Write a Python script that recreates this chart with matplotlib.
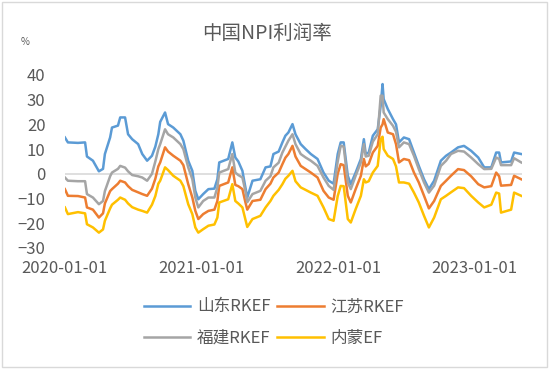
import numpy as np
import pandas as pd
import matplotlib
matplotlib.use("Agg")
import matplotlib.pyplot as plt
import matplotlib.dates as mdates
from matplotlib.patches import Rectangle

plt.rcParams['font.family'] = ['Noto Sans CJK SC', 'DejaVu Sans']

# 日期节点
dates = pd.to_datetime([
    "2020-01-01", "2020-01-09", "2020-02-05", "2020-02-24", "2020-02-29", "2020-03-16",
    "2020-04-01", "2020-04-12", "2020-04-17", "2020-05-01", "2020-05-06", "2020-05-22",
    "2020-05-28", "2020-06-10", "2020-06-18", "2020-06-29", "2020-07-15", "2020-07-26",
    "2020-08-08", "2020-08-21", "2020-08-30", "2020-09-07", "2020-09-12", "2020-09-25",
    "2020-10-03", "2020-10-17", "2020-11-05", "2020-11-13", "2020-11-26", "2020-12-07",
    "2020-12-15", "2020-12-23", "2021-01-05", "2021-01-19", "2021-02-04", "2021-02-12",
    "2021-02-17", "2021-03-13", "2021-03-24", "2021-04-01", "2021-04-09", "2021-04-20",
    "2021-04-28", "2021-05-03", "2021-05-17", "2021-06-07", "2021-06-21", "2021-07-04",
    "2021-07-12", "2021-07-26", "2021-08-05", "2021-08-13", "2021-08-21", "2021-09-01",
    "2021-09-09", "2021-09-23", "2021-10-06", "2021-10-20", "2021-11-07", "2021-11-23",
    "2021-12-07", "2021-12-20", "2021-12-31", "2022-01-08", "2022-01-16", "2022-01-27",
    "2022-02-04", "2022-02-17", "2022-03-03", "2022-03-11", "2022-03-16", "2022-03-24",
    "2022-04-04", "2022-04-17", "2022-04-25", "2022-04-30", "2022-05-03", "2022-05-14",
    "2022-05-28", "2022-06-05", "2022-06-13", "2022-06-26", "2022-07-10", "2022-07-23",
    "2022-08-05", "2022-08-19", "2022-09-01", "2022-09-15", "2022-10-03", "2022-10-17",
    "2022-10-30", "2022-11-18", "2022-12-04", "2022-12-23", "2023-01-11", "2023-01-27",
    "2023-02-15", "2023-02-28", "2023-03-08", "2023-03-13", "2023-04-09", "2023-04-17",
    "2023-05-06",
])

shandong = [
    14.7, 12.7, 12.5, 12.7, 7.0, 5.3, 1.0, 2.0, 8.0, 14.7, 18.7, 19.5,
    22.8, 22.8, 16.0, 14.0, 12.0, 8.0, 5.3, 7.3, 11.0, 16.0, 21.0, 24.8,
    20.1, 18.7, 16.0, 13.4, 5.3, 1.2, -6.9, -10.3, -8.2, -6.2, -6.0, -2.2,
    4.6, 6.0, 12.7, 6.6, 5.0, 1.2, -5.5, -9.6, -2.8, -2.2, 2.6, 3.0,
    8.0, 9.0, 12.7, 15.4, 16.7, 20.1, 16.0, 12.0, 10.0, 8.0, 6.0, 0.5,
    -2.8, -4.0, 8.0, 12.7, 12.7, -0.8, -4.2, 0.5, 6.0, 14.0, 8.0, 8.6,
    15.4, 18.0, 27.5, 36.3, 30.2, 26.2, 22.1, 20.0, 12.7, 14.7, 14.0, 8.6,
    3.2, -2.2, -6.2, -2.8, 5.3, 7.3, 8.6, 10.7, 11.3, 9.3, 6.6, 2.6,
    2.6, 8.6, 8.6, 4.6, 5.0, 8.6, 8.0,
]

jiangsu = [
    -6.2, -8.9, -9.0, -9.6, -13.6, -14.5, -17.7, -16.0, -12.0, -7.0, -6.2, -4.0,
    -2.8, -3.5, -5.0, -6.5, -7.5, -8.2, -8.9, -6.0, -2.0, 3.0, 4.6, 10.7,
    9.0, 7.3, 5.3, 3.5, -4.2, -9.6, -15.0, -18.3, -16.3, -15.0, -14.5, -11.0,
    -4.9, -3.5, 2.6, -4.5, -5.0, -6.2, -11.5, -14.5, -11.0, -10.5, -6.2, -4.0,
    -1.5, 0.5, 3.9, 6.5, 8.0, 11.3, 7.0, 3.2, 1.9, 0.5, -1.5, -6.9,
    -9.6, -10.5, 0.0, 3.9, 3.5, -8.9, -11.6, -6.2, -0.8, 6.0, 3.0, 4.0,
    8.6, 11.3, 18.7, 20.0, 22.1, 16.7, 16.0, 12.0, 4.6, 6.0, 5.5, 0.5,
    -3.5, -8.9, -14.0, -11.0, -4.9, -2.8, -0.8, 1.9, 1.5, -1.0, -4.2, -5.5,
    -5.0, 0.5, -1.0, -4.8, -4.5, -0.8, -2.2,
]

fujian = [
    -1.5, -2.8, -3.0, -3.0, -8.2, -9.6, -12.3, -11.0, -7.0, -1.0, 0.5, 2.0,
    3.2, 2.5, 1.0, -0.5, -1.0, -1.5, -2.8, 0.0, 5.0, 10.0, 12.0, 18.0,
    16.0, 14.7, 12.0, 10.0, 2.6, -2.2, -9.6, -13.6, -11.0, -9.6, -9.6, -5.5,
    0.5, 1.9, 8.0, 0.5, -0.5, -1.5, -7.0, -11.5, -8.2, -6.9, -2.8, -1.0,
    2.6, 4.5, 8.6, 11.0, 13.4, 16.0, 12.0, 8.0, 6.6, 5.3, 3.2, -1.5,
    -4.9, -6.5, 5.0, 11.3, 11.0, -3.5, -6.2, -0.8, 4.6, 12.0, 7.0, 7.3,
    13.0, 16.0, 31.6, 31.6, 24.8, 22.1, 19.4, 17.0, 10.7, 12.7, 12.0, 7.3,
    1.9, -3.5, -7.6, -4.8, 3.2, 5.3, 8.0, 9.3, 9.0, 6.6, 3.9, 1.9,
    2.0, 6.6, 6.0, 3.5, 3.5, 6.3, 4.6,
]

neimeng = [
    -13.6, -16.3, -15.5, -16.0, -20.4, -21.7, -23.8, -22.5, -19.0, -14.0, -12.5, -10.5,
    -9.6, -10.5, -12.0, -13.5, -14.5, -15.0, -15.7, -12.5, -9.0, -4.0, -2.8, 2.6,
    1.5, -0.8, -2.8, -5.0, -12.3, -16.3, -21.7, -23.8, -22.4, -21.0, -20.5, -17.7,
    -11.6, -10.3, -4.2, -11.0, -12.0, -13.6, -18.5, -21.5, -18.3, -17.0, -13.6, -11.0,
    -8.9, -6.5, -4.2, -2.0, -0.8, 1.2, -3.0, -5.5, -6.5, -7.6, -8.9, -13.6,
    -18.3, -19.0, -9.0, -4.9, -5.0, -18.3, -19.7, -14.3, -8.9, -2.2, -3.5, -3.0,
    0.5, 3.2, 14.0, 15.0, 10.0, 7.3, 6.0, 3.0, -3.5, -3.5, -4.0, -7.6,
    -11.6, -17.0, -21.7, -17.7, -10.3, -8.9, -7.5, -5.5, -5.8, -8.9, -11.6, -13.6,
    -12.5, -7.6, -8.0, -15.7, -14.5, -7.6, -8.9,
]

labels = ["山东RKEF", "江苏RKEF", "福建RKEF", "内蒙EF"]
colors = ["#5B9BD5", "#ED7D31", "#A5A5A5", "#FFC000"]
series = [shandong, jiangsu, fujian, neimeng]
yticks = [40, 30, 20, 10, 0, -10, -20, -30]
xticks = pd.to_datetime(["2020-01-01", "2021-01-01", "2022-01-01", "2023-01-01"])

fig = plt.figure(figsize=(5.5, 3.69), dpi=100)
ax = fig.add_axes([0.118, 0.328, 0.831, 0.469])

ax.axhline(0, color="#D9D9D9", lw=1.2, zorder=1)
lines = []
for vals, lab, c in zip(series, labels, colors):
    ln, = ax.plot(dates, vals, color=c, lw=1.8, label=lab, zorder=2)
    lines.append(ln)

ax.set_ylim(-30, 40)
ax.set_yticks(yticks)
ax.set_xlim(pd.Timestamp("2020-01-01"), pd.Timestamp("2023-05-08"))
ax.set_xticks(xticks)
ax.xaxis.set_major_formatter(mdates.DateFormatter("%Y-%m-%d"))
for s in ax.spines.values():
    s.set_visible(False)
ax.tick_params(axis="both", length=0, labelsize=12, labelcolor="#595959")
ax.tick_params(axis="y", pad=14)
ax.tick_params(axis="x", pad=9)

fig.text(0.485, 0.91, "中国NPI利润率", ha="center", va="center",
         fontsize=14, color="#595959")
fig.text(0.046, 0.885, "%", ha="center", va="center", fontsize=7, color="#595959")

# 图例按行排列：山东、江苏 / 福建、内蒙
order = [0, 2, 1, 3]
ax.legend([lines[i] for i in order], [labels[i] for i in order],
          loc="upper center", bbox_to_anchor=(0.457, -0.205), ncol=2, frameon=False,
          fontsize=12, labelcolor="#595959", handlelength=2.8, handletextpad=0.4,
          columnspacing=0.4, labelspacing=0.85)

fig.patches.append(Rectangle((0.004, 0.006), 0.99, 0.988, transform=fig.transFigure,
                             fill=False, ec="#D9D9D9", lw=1))

fig.savefig("out.png", dpi=100)
